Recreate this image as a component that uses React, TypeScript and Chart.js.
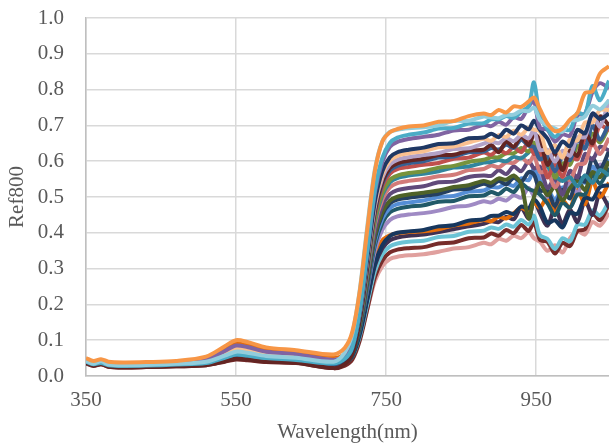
import React, { useEffect, useRef } from 'react';
import { Chart, registerables } from 'chart.js';

Chart.register(...registerables);

// Wavelength grid (nm)
const wavelengths = [350, 360, 370, 380, 400, 430, 470, 510, 535, 550, 565, 590, 630, 680, 695, 705, 715, 725, 735, 745, 755, 765, 780, 800, 820, 840, 860, 880, 890, 900, 910, 920, 930, 940, 947, 955, 965, 975, 985, 995, 1005, 1015, 1025, 1035, 1047];

const s01 = [.050,.042,.047,.040,.038,.039,.042,.054,.083,.100,.095,.080,.072,.060, .079,.124,.239,.412,.572,.655,.681,.690,.697, .700, .710,.712,.726,.733,.729,.743,.736,.753,.752,.767,.778,.745,.705,.684,.691,.716,.735,.790,.795,.845,.865];
const s02 = [.042,.034,.041,.032,.030,.031,.034,.040,.057,.068,.065,.056,.051,.040, .066,.119,.243,.420,.577,.656,.682,.688,.692, .695, .700,.712,.713,.725,.722,.720,.729,.730,.741,.740,.750,.715,.700,.691,.682,.713,.715,.725,.755,.745,.770];
const s03 = [.040,.033,.036,.030,.028,.029,.032,.036,.051,.060,.057,.050,.045,.035, .048,.080,.183,.351,.519,.609,.651,.666,.674, .680, .691,.693,.705,.706,.717,.717,.726,.721,.738,.755,.820,.725,.690,.668,.687,.688,.735,.730,.810,.770,.825];
const s04 = [.043,.036,.041,.034,.032,.033,.036,.045,.070,.085,.081,.068,.061,.045, .057,.089,.188,.350,.512,.599,.640,.654,.662, .668, .674,.686,.688,.702,.698,.710,.702,.723,.718,.753,.768,.693,.688,.655,.675,.671,.728,.733,.793,.818,.803];
const s05 = [.041,.035,.038,.033,.030,.031,.034,.038,.053,.062,.059,.052,.047,.035, .047,.077,.174,.330,.487,.572,.611,.625,.632, .638, .648,.650,.664,.666,.677,.667,.688,.677,.700,.689,.713,.688,.663,.625,.655,.641,.688,.678,.733,.718,.733];
const s06 = [.043,.036,.040,.034,.032,.033,.036,.043,.063,.075,.072,.061,.055,.042, .054,.083,.177,.329,.482,.564,.602,.615,.622, .628, .639,.641,.652,.663,.657,.673,.668,.685,.674,.693,.688,.683,.623,.645,.610,.661,.658,.708,.708,.743,.743];
const s07 = [.044,.037,.042,.035,.033,.034,.037,.045,.067,.080,.076,.065,.058,.045, .056,.085,.177,.325,.474,.554,.591,.604,.611, .617, .623,.634,.636,.649,.655,.650,.665,.656,.673,.664,.687,.632,.632,.599,.629,.615,.667,.667,.732,.697,.772];
const s08 = [.036,.029,.033,.026,.024,.025,.027,.030,.041,.048,.046,.040,.037,.022, .034,.063,.157,.309,.461,.543,.581,.594,.601, .607, .617,.618,.630,.632,.645,.625,.655,.640,.670,.645,.675,.660,.590,.625,.575,.630,.615,.680,.650,.725,.700];
const s09 = [.038,.031,.036,.029,.027,.028,.031,.035,.049,.058,.056,.048,.044,.030, .041,.070,.161,.309,.458,.537,.574,.587,.594, .600, .610,.613,.625,.627,.637,.632,.646,.637,.660,.643,.640,.605,.615,.572,.612,.603,.660,.635,.700,.660,.705];
const s10 = [.041,.034,.039,.032,.030,.031,.034,.040,.059,.070,.067,.057,.052,.038, .049,.077,.165,.308,.452,.529,.565,.578,.584, .590, .595,.607,.610,.624,.618,.633,.622,.639,.625,.655,.620,.625,.555,.592,.557,.613,.605,.660,.645,.700,.685];
const s11 = [.040,.033,.038,.031,.029,.030,.033,.038,.055,.065,.062,.053,.048,.034, .045,.072,.158,.298,.438,.513,.548,.560,.567, .572, .582,.587,.598,.604,.611,.611,.622,.622,.637,.627,.652,.617,.607,.554,.594,.590,.642,.637,.677,.652,.697];
const s12 = [.038,.031,.036,.029,.027,.028,.031,.035,.049,.058,.056,.048,.044,.030, .041,.067,.153,.292,.431,.506,.541,.553,.560, .565, .572,.582,.585,.596,.598,.603,.600,.612,.608,.625,.640,.630,.585,.560,.545,.555,.530,.560,.540,.575,.560];
const s13 = [.044,.037,.042,.035,.033,.034,.037,.044,.065,.078,.074,.064,.057,.043, .053,.078,.160,.291,.423,.494,.527,.539,.545, .550, .558,.562,.575,.578,.588,.583,.596,.595,.610,.595,.615,.570,.570,.527,.557,.548,.590,.595,.650,.620,.665];
const s14 = [.042,.034,.039,.032,.030,.031,.034,.040,.059,.070,.067,.057,.052,.038, .048,.072,.151,.279,.407,.476,.508,.519,.525, .530, .541,.543,.556,.560,.559,.575,.564,.585,.572,.600,.580,.585,.525,.552,.507,.573,.555,.620,.605,.640,.630];
const s15 = [.039,.032,.037,.030,.028,.029,.032,.036,.051,.060,.057,.050,.045,.032, .042,.066,.142,.267,.392,.459,.490,.501,.507, .512, .518,.528,.533,.545,.540,.552,.548,.560,.535,.440,.500,.540,.505,.530,.490,.525,.545,.520,.570,.555,.600];
const s16 = [.038,.031,.036,.029,.027,.028,.031,.034,.047,.055,.053,.046,.042,.030, .039,.063,.139,.262,.385,.451,.482,.493,.498, .503, .509,.521,.523,.537,.531,.545,.535,.554,.543,.570,.563,.518,.518,.475,.520,.496,.558,.543,.608,.578,.628];
const s17 = [.040,.033,.038,.031,.029,.030,.033,.037,.053,.062,.059,.051,.047,.034, .043,.066,.139,.257,.376,.440,.469,.480,.485, .490, .500,.503,.515,.518,.528,.527,.538,.531,.552,.547,.580,.545,.525,.492,.527,.523,.550,.540,.585,.560,.605];
const s18 = [.037,.030,.035,.028,.026,.027,.030,.033,.045,.052,.050,.044,.040,.027, .036,.059,.131,.248,.365,.428,.457,.467,.473, .477, .487,.489,.502,.504,.514,.508,.523,.514,.537,.522,.517,.507,.482,.449,.484,.470,.507,.507,.562,.537,.582];
const s19 = [.043,.035,.040,.033,.031,.032,.035,.041,.061,.072,.069,.059,.053,.040, .048,.069,.135,.243,.351,.409,.436,.446,.451, .455, .462,.472,.476,.488,.485,.495,.490,.505,.498,.525,.505,.560,.500,.545,.495,.540,.510,.560,.540,.590,.570];
const s20 = [.039,.031,.036,.029,.027,.028,.031,.034,.047,.055,.053,.046,.042,.030, .038,.056,.117,.215,.314,.366,.391,.400,.404, .408, .418,.421,.434,.438,.447,.448,.458,.453,.473,.468,.493,.473,.428,.435,.415,.456,.453,.498,.493,.528,.533];
const s21 = [.046,.038,.043,.036,.034,.035,.038,.048,.074,.090,.086,.072,.064,.050, .061,.085,.149,.245,.333,.379,.393,.399,.402, .404, .410,.420,.426,.436,.432,.445,.440,.455,.470,.460,.485,.470,.500,.455,.490,.470,.520,.480,.545,.500,.540];
const s22 = [.044,.036,.041,.034,.032,.033,.036,.045,.070,.085,.081,.068,.061,.045, .052,.070,.126,.217,.308,.357,.379,.387,.392, .395, .402,.410,.418,.425,.432,.430,.445,.438,.470,.440,.490,.455,.420,.470,.425,.465,.430,.490,.450,.510,.470];
const s23 = [.039,.032,.037,.030,.028,.029,.032,.036,.050,.058,.056,.048,.044,.032, .039,.056,.112,.202,.292,.340,.362,.370,.375, .378, .388,.391,.403,.406,.415,.411,.423,.417,.436,.423,.448,.393,.383,.355,.385,.376,.423,.423,.463,.448,.488];
const s24 = [.035,.028,.033,.026,.024,.025,.027,.030,.040,.046,.044,.039,.036,.022, .029,.046,.100,.188,.276,.323,.345,.353,.357, .360, .370,.373,.385,.387,.398,.392,.408,.399,.422,.405,.430,.380,.375,.342,.372,.363,.405,.410,.455,.435,.480];
const s25 = [.041,.034,.039,.032,.030,.031,.034,.041,.062,.075,.071,.061,.054,.040, .046,.061,.109,.187,.265,.307,.327,.333,.337, .340, .347,.356,.360,.372,.368,.383,.378,.392,.385,.402,.385,.375,.350,.365,.345,.385,.405,.395,.430,.420,.455];

const seriesList = [s01, s02, s03, s04, s05, s06, s07, s08, s09, s10, s11, s12, s13, s14, s15, s16, s17, s18, s19, s20, s21, s22, s23, s24, s25];
const seriesColors = ['#F79646', '#92CDDC', '#4BACC6', '#8064A2', '#1F3864', '#FAC090', '#B3A2C7', '#632523', '#376092', '#C0504D', '#77933C', '#31859C', '#D27B79', '#604A7B', '#4F6228', '#254061', '#558ED5', '#215968', '#9F8AC4', '#17375E', '#E46C0A', '#403152', '#6CC3D5', '#772C2A', '#E0A09E'];

const xTicks = [350, 550, 750, 950];
const xMin = 350;
const xMax = 1047;
const yMin = 0;
const yMax = 1;
const yStep = 0.1;

export default function App() {
  const ref = useRef<HTMLCanvasElement>(null);
  useEffect(() => {
    const canvas = ref.current;
    if (!canvas) return;
    const font = { family: 'Liberation Serif', size: 21 };
    const chart = new Chart(canvas, {
      type: 'line',
      data: {
        datasets: seriesList.map((s, k) => ({
          label: 'S' + (k + 1),
          data: wavelengths.map((w, i) => ({ x: w, y: s[i] })),
          borderColor: seriesColors[k],
          backgroundColor: seriesColors[k],
          borderWidth: 4,
          pointRadius: 0,
          tension: 0.3,
          fill: false,
        })),
      },
      options: {
        responsive: false,
        animation: false,
        layout: { padding: { top: 18, right: 0, bottom: 0, left: 0 } },
        plugins: { legend: { display: false }, tooltip: { enabled: false } },
        scales: {
          x: {
            type: 'linear',
            min: xMin,
            max: xMax,
            afterBuildTicks: (axis: any) => {
              axis.ticks = xTicks.map((v) => ({ value: v }));
            },
            afterFit: (s: any) => {
              s.height = 68;
              s.paddingLeft = 0;
              s.paddingRight = 0;
            },
            grid: { color: '#d9d9d9', lineWidth: 1.5, drawTicks: false },
            border: { color: '#bfbfbf', width: 1.5 },
            ticks: { padding: 12, color: '#595959', font, maxRotation: 0, autoSkip: false },
            title: { display: true, text: 'Wavelength(nm)', color: '#595959', font, padding: { top: 0, bottom: -1 } },
          },
          y: {
            min: yMin,
            max: yMax,
            afterFit: (s: any) => {
              s.width = 86;
              s.paddingTop = 0;
              s.paddingBottom = 0;
            },
            grid: { color: '#d9d9d9', lineWidth: 1.5, drawTicks: false },
            border: { color: '#bfbfbf', width: 1.5 },
            ticks: {
              stepSize: yStep,
              padding: 22,
              color: '#595959',
              font,
              callback: (v: any) => Number(v).toFixed(1),
            },
            title: { display: true, text: 'Ref800', color: '#595959', font, padding: { top: 5, bottom: 0 } },
          },
        },
      },
    });
    return () => chart.destroy();
  }, []);
  return (
    <div style={{ position: 'fixed', left: 0, top: 0, width: 609, height: 444, background: '#fff' }}>
      <canvas ref={ref} width={609} height={444} style={{ display: 'block' }} />
    </div>
  );
}
